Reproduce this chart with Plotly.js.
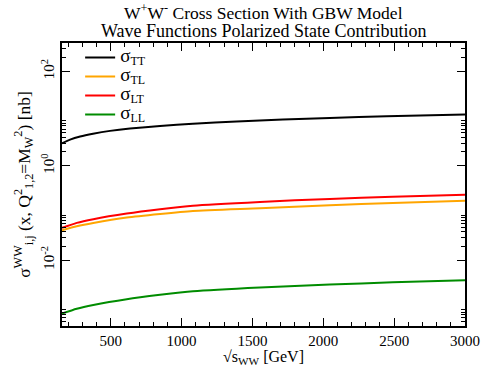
<!DOCTYPE html>
<html>
<head>
<meta charset="utf-8">
<script src="https://cdn.plot.ly/plotly-3.0.1.min.js"></script>
<style>html,body{margin:0;padding:0;background:#fff;}#chart{width:483px;height:367px;}</style>
</head>
<body>
<div id="chart"></div>
<script>
// sqrt(s_WW) [GeV]
const xTT = [156, 213, 284, 375, 495, 636, 848, 1080, 1388, 1715, 2046, 2446, 3000];
const sigmaTT = [2.99, 3.59, 4.19, 4.79, 5.50, 6.17, 7.0, 7.76, 8.71, 9.55, 10.35, 11.27, 12.3];
const xPol = [156, 260, 377, 613, 848, 1080, 1553, 2046, 2490, 3000];
const sigmaTL = [0.0433, 0.0526, 0.0618, 0.0805, 0.0959, 0.111, 0.1267, 0.1468, 0.164, 0.181];
const sigmaLT = [0.0484, 0.0618, 0.0741, 0.0977, 0.1207, 0.1435, 0.1723, 0.1995, 0.220, 0.2428];
const sigmaLL = [0.00074, 0.00094, 0.00113, 0.0015, 0.00185, 0.0022, 0.00265, 0.00305, 0.0034, 0.00375];

const seriesNames = ['TT', 'TL', 'LT', 'LL'];
const yMajorTicks = [1e-2, 1, 1e2];
const yMajorText = ['10<sup>-2</sup>', '10<sup>0</sup>', '10<sup>2</sup>'];
const yMinorTicks = [5e-4, 6e-4, 7e-4, 8e-4, 9e-4,
  0.02, 0.03, 0.04, 0.05, 0.06, 0.07, 0.08, 0.09,
  2, 3, 4, 5, 6, 7, 8, 9,
  200, 300];

const FONT = 'Liberation Serif, Times New Roman, serif';
const colors = ['#000000', '#ffa500', '#ff0000', '#008c00'];
const xs = [xTT, xPol, xPol, xPol];
const ys = [sigmaTT, sigmaTL, sigmaLT, sigmaLL];

const traces = seriesNames.map((n, i) => ({
  x: xs[i], y: ys[i], type: 'scatter', mode: 'lines',
  line: {color: colors[i], width: 2, shape: 'spline', smoothing: 0.6},
  name: '<span style="font-size:19px">σ</span><sub><span style="font-size:12px">' + n + '</span></sub>'
}));

const layout = {
  width: 483, height: 367,
  margin: {l: 62, r: 18, t: 43, b: 41},
  paper_bgcolor: '#fff', plot_bgcolor: '#fff',
  font: {family: FONT, color: '#000', size: 15},
  showlegend: true,
  legend: {x: 0.045, y: 1.0, xanchor: 'left', yanchor: 'top', bgcolor: 'rgba(0,0,0,0)',
    font: {family: FONT, size: 12, color: '#000'}, itemwidth: 30, tracegroupgap: 0},
  xaxis: {
    type: 'linear', range: [156, 3000], showgrid: false, zeroline: false,
    showline: true, linecolor: '#000', linewidth: 2, mirror: 'allticks',
    ticks: 'inside', ticklen: 8, tickwidth: 1, tickcolor: '#000',
    tick0: 0, dtick: 500, tickfont: {family: FONT, size: 15},
    minor: {ticks: 'inside', ticklen: 4, dtick: 100, tick0: 0, tickcolor: '#000', tickwidth: 1, showgrid: false},
    title: {text: '√s<sub>WW</sub> [GeV]', font: {family: FONT, size: 16}, standoff: 4}
  },
  yaxis: {
    type: 'log', range: [-3.393, 2.602], showgrid: false, zeroline: false,
    showline: true, linecolor: '#000', linewidth: 2, mirror: 'allticks',
    ticks: 'inside', ticklen: 8, tickwidth: 1, tickcolor: '#000',
    tickmode: 'array', tickvals: yMajorTicks, ticktext: yMajorText, tickangle: -90,
    tickfont: {family: FONT, size: 15},
    minor: {ticks: 'inside', ticklen: 4, tickmode: 'array', tickvals: yMinorTicks, tickcolor: '#000', tickwidth: 1, showgrid: false},
    title: {text: 'σ<sup>WW</sup><sub>i,j</sub> (x, Q<sup>2</sup><sub>1,2</sub>=M<sub>W</sub><sup>2</sup>) [nb]', font: {family: FONT, size: 17.5}, standoff: 4}
  },
  annotations: [
    {text: 'W<sup>+</sup>W<sup>-</sup> Cross Section With GBW Model', xref: 'paper', yref: 'paper',
     x: 0.5, y: 1 + (43 - 12) / 282.7, xanchor: 'center', yanchor: 'middle', showarrow: false,
     borderpad: 0, font: {family: FONT, size: 17.5}},
    {text: 'Wave Functions Polarized State Contribution', xref: 'paper', yref: 'paper',
     x: 0.5, y: 1 + (43 - 31) / 282.7, xanchor: 'center', yanchor: 'middle', showarrow: false,
     borderpad: 0, font: {family: FONT, size: 18}}
  ]
};

Plotly.newPlot('chart', traces, layout, {displayModeBar: false, staticPlot: true});
</script>
</body>
</html>
